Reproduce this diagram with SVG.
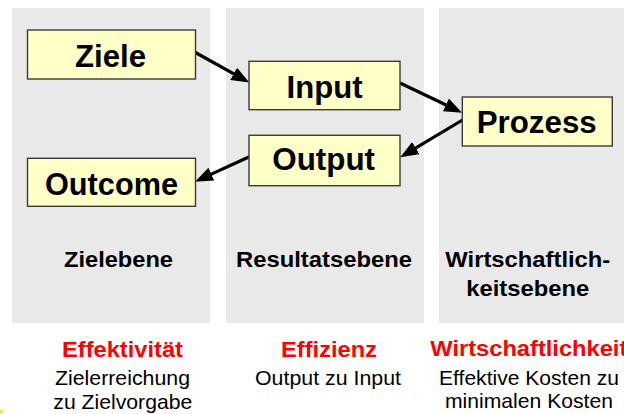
<svg xmlns="http://www.w3.org/2000/svg" width="624" height="414" viewBox="0 0 624 414">
  <style>
    .panel { fill: #E9E9E9; }
    .box { fill: #FFFFC8; stroke: #3A3A3A; stroke-width: 1.4; }
    .boxlabel { font-family: "Liberation Sans", Arial, sans-serif; font-weight: bold; font-size: 31px; fill: #000; }
    .level { font-family: "Liberation Sans", Arial, sans-serif; font-weight: bold; font-size: 22px; fill: #000; }
    .measure { font-family: "Liberation Sans", Arial, sans-serif; font-weight: bold; font-size: 22px; fill: #FF0000; }
    .note { font-family: "Liberation Sans", Arial, sans-serif; font-size: 21px; fill: #000; }
    .conn { stroke: #000; stroke-width: 3.2; fill: none; marker-end: url(#arrow); }
  </style>
  <defs>
    <marker id="arrow" markerUnits="userSpaceOnUse" markerWidth="18" markerHeight="14" refX="9" refY="7" orient="auto">
      <path d="M0,0 L18,7 L0,14 z" fill="#000"/>
    </marker>
  </defs>

  <rect width="624" height="414" fill="#FFFFFF"/>

  <!-- column backgrounds -->
  <g id="columns">
    <rect class="panel" x="12" y="8" width="198" height="315"/>
    <rect class="panel" x="226" y="8" width="198" height="315"/>
    <rect class="panel" x="439" y="8" width="190" height="315"/>
  </g>

  <!-- level captions -->
  <g id="levels">
    <text class="level" x="64" y="266.7" textLength="109" lengthAdjust="spacingAndGlyphs">Zielebene</text>
    <text class="level" x="236" y="267" textLength="176" lengthAdjust="spacingAndGlyphs">Resultatsebene</text>
    <text class="level" x="445.3" y="267" textLength="165" lengthAdjust="spacingAndGlyphs">Wirtschaftlich-</text>
    <text class="level" x="466.3" y="296" textLength="123" lengthAdjust="spacingAndGlyphs">keitsebene</text>
  </g>

  <!-- connectors -->
  <g id="connectors">
    <line class="conn" x1="194.5" y1="52" x2="241.5" y2="78.2"/>
    <line class="conn" x1="400" y1="83" x2="454" y2="108.8"/>
    <line class="conn" x1="462.5" y1="120" x2="408" y2="152.7"/>
    <line class="conn" x1="249.3" y1="156.7" x2="203.2" y2="177.9"/>
  </g>

  <!-- nodes -->
  <g id="node-ziele">
    <rect class="box" x="27.5" y="30" width="168" height="49"/>
    <text class="boxlabel" x="75" y="66.5" textLength="71" lengthAdjust="spacingAndGlyphs">Ziele</text>
  </g>
  <g id="node-input">
    <rect class="box" x="249" y="61.3" width="151" height="48.4"/>
    <text class="boxlabel" x="286.5" y="97.5" textLength="76" lengthAdjust="spacingAndGlyphs">Input</text>
  </g>
  <g id="node-prozess">
    <rect class="box" x="462.3" y="97" width="150" height="49"/>
    <text class="boxlabel" x="476.7" y="132.5" textLength="120" lengthAdjust="spacingAndGlyphs">Prozess</text>
  </g>
  <g id="node-output">
    <rect class="box" x="249" y="135.3" width="151" height="50.4"/>
    <text class="boxlabel" x="272.3" y="170" textLength="102.7" lengthAdjust="spacingAndGlyphs">Output</text>
  </g>
  <g id="node-outcome">
    <rect class="box" x="27.5" y="158.3" width="168" height="48"/>
    <text class="boxlabel" x="45" y="195" textLength="133" lengthAdjust="spacingAndGlyphs">Outcome</text>
  </g>

  <!-- measures below the columns -->
  <g id="measures">
    <text class="measure" x="62" y="356.5" textLength="121" lengthAdjust="spacingAndGlyphs">Effektivität</text>
    <text class="note" x="55" y="385" textLength="135" lengthAdjust="spacingAndGlyphs">Zielerreichung</text>
    <text class="note" x="53.3" y="409" textLength="139" lengthAdjust="spacingAndGlyphs">zu Zielvorgabe</text>

    <text class="measure" x="281" y="356.5" textLength="96" lengthAdjust="spacingAndGlyphs">Effizienz</text>
    <text class="note" x="255" y="385" textLength="146" lengthAdjust="spacingAndGlyphs">Output zu Input</text>

    <text class="measure" x="430.3" y="356" textLength="197" lengthAdjust="spacingAndGlyphs">Wirtschaftlichkeit</text>
    <text class="note" x="439" y="384.5" textLength="180" lengthAdjust="spacingAndGlyphs">Effektive Kosten zu</text>
    <text class="note" x="445" y="408" textLength="168" lengthAdjust="spacingAndGlyphs">minimalen Kosten</text>
  </g>

  <!-- small yellow mark at the lower left corner -->
  <rect x="0" y="410" width="3" height="4" fill="#FFE83C"/>
</svg>
